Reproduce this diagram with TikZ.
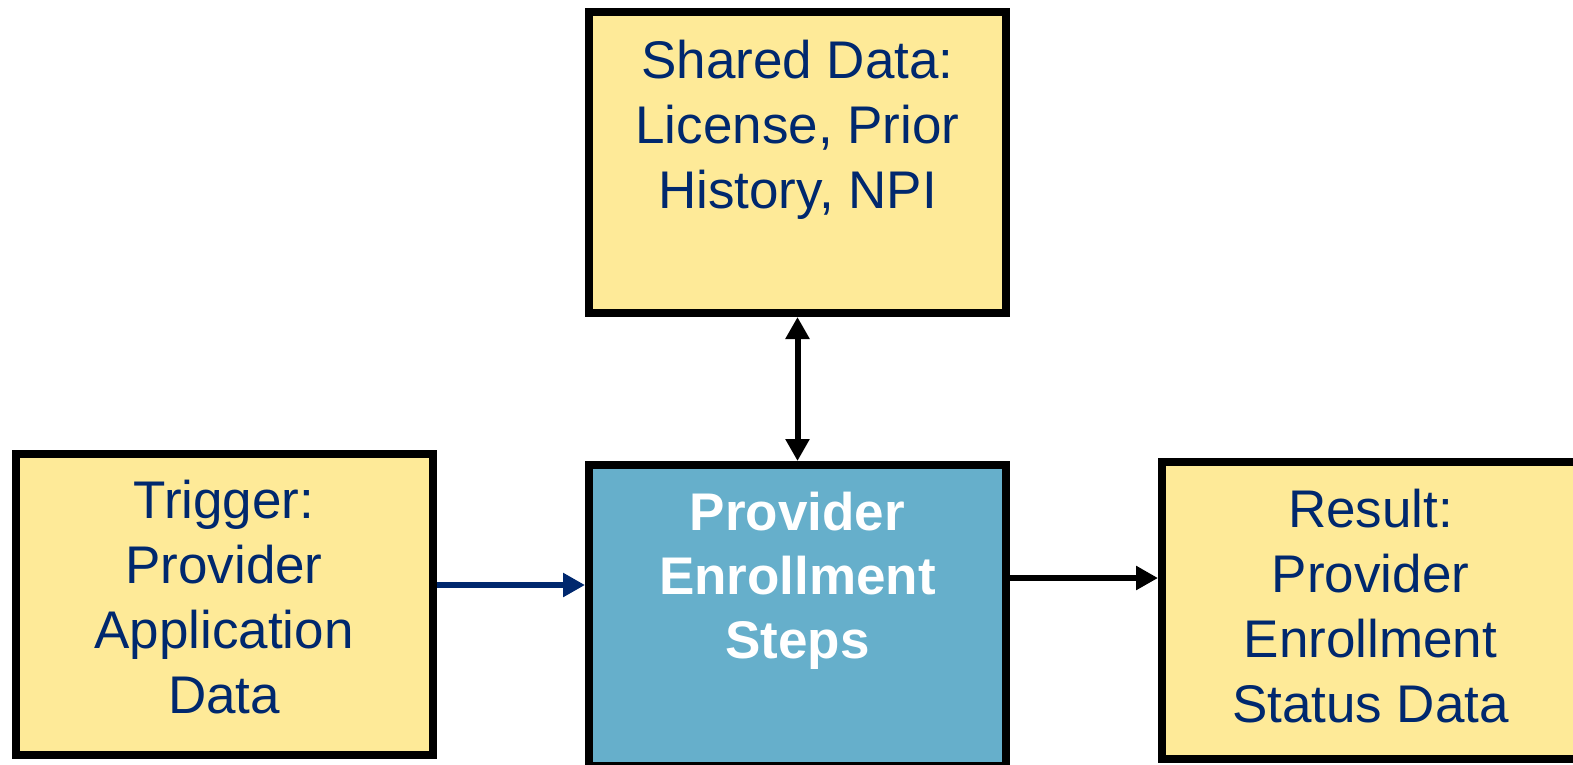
\documentclass[tikz,border=0pt]{standalone}
\usepackage{fontspec}
\setmainfont{Liberation Sans}
\usepackage{xcolor}
\definecolor{boxyellow}{RGB}{254,234,152}
\definecolor{stepblue}{RGB}{102,175,203}
\definecolor{textnavy}{RGB}{0,40,110}
\usetikzlibrary{arrows.meta}

\begin{document}
\begin{tikzpicture}[x=0.5pt,y=-0.5pt,
  databox/.style={draw=black,line width=4pt,fill=boxyellow,minimum width=208.5pt,
    minimum height=150.5pt,inner sep=0pt},
  boxtext/.style={text=textnavy,font=\fontsize{26.5}{32.5}\selectfont,align=center},
  link/.style={line width=3pt,-{Triangle[length=11pt,width=11.5pt]}},
  twoway/.style={line width=3pt,{Triangle[length=11pt,width=11.5pt]}-{Triangle[length=11pt,width=11.5pt]}}]
  \useasboundingbox (0,0) rectangle (1573,765);
  \clip (0,0) rectangle (1573,765);
  % boxes
  \node[databox] (shared) at (797.5,162.5) {};
  \node[boxtext] (sharedtext) at (797.5,129.5) {Shared Data:\\License, Prior\\History, NPI};
  \node[databox] (trigger) at (224,604) {};
  \node[boxtext] (triggertext) at (224,597) {Trigger:\\Provider\\Application\\Data};
  \node[databox,fill=stepblue] (steps) at (797.5,615.5) {};
  \node[boxtext,text=white,font=\fontsize{26.5}{32}\selectfont\bfseries] (stepstext)
    at (797.5,581) {Provider\\Enrollment\\Steps};
  \node[databox,minimum height=148.5pt] (result) at (1370.5,610.5) {};
  \node[boxtext] (resulttext) at (1370.5,606.5) {Result:\\Provider\\Enrollment\\Status Data};
  % connectors
  \coordinate (inlet) at (0,585);
  \coordinate (outlet) at (0,578);
  \draw[link,textnavy] (trigger.east |- inlet) -- (steps.west |- inlet);
  \draw[link] (steps.east |- outlet) -- (result.west |- outlet);
  \draw[twoway] (steps.north) -- (shared.south);
\end{tikzpicture}
\end{document}
